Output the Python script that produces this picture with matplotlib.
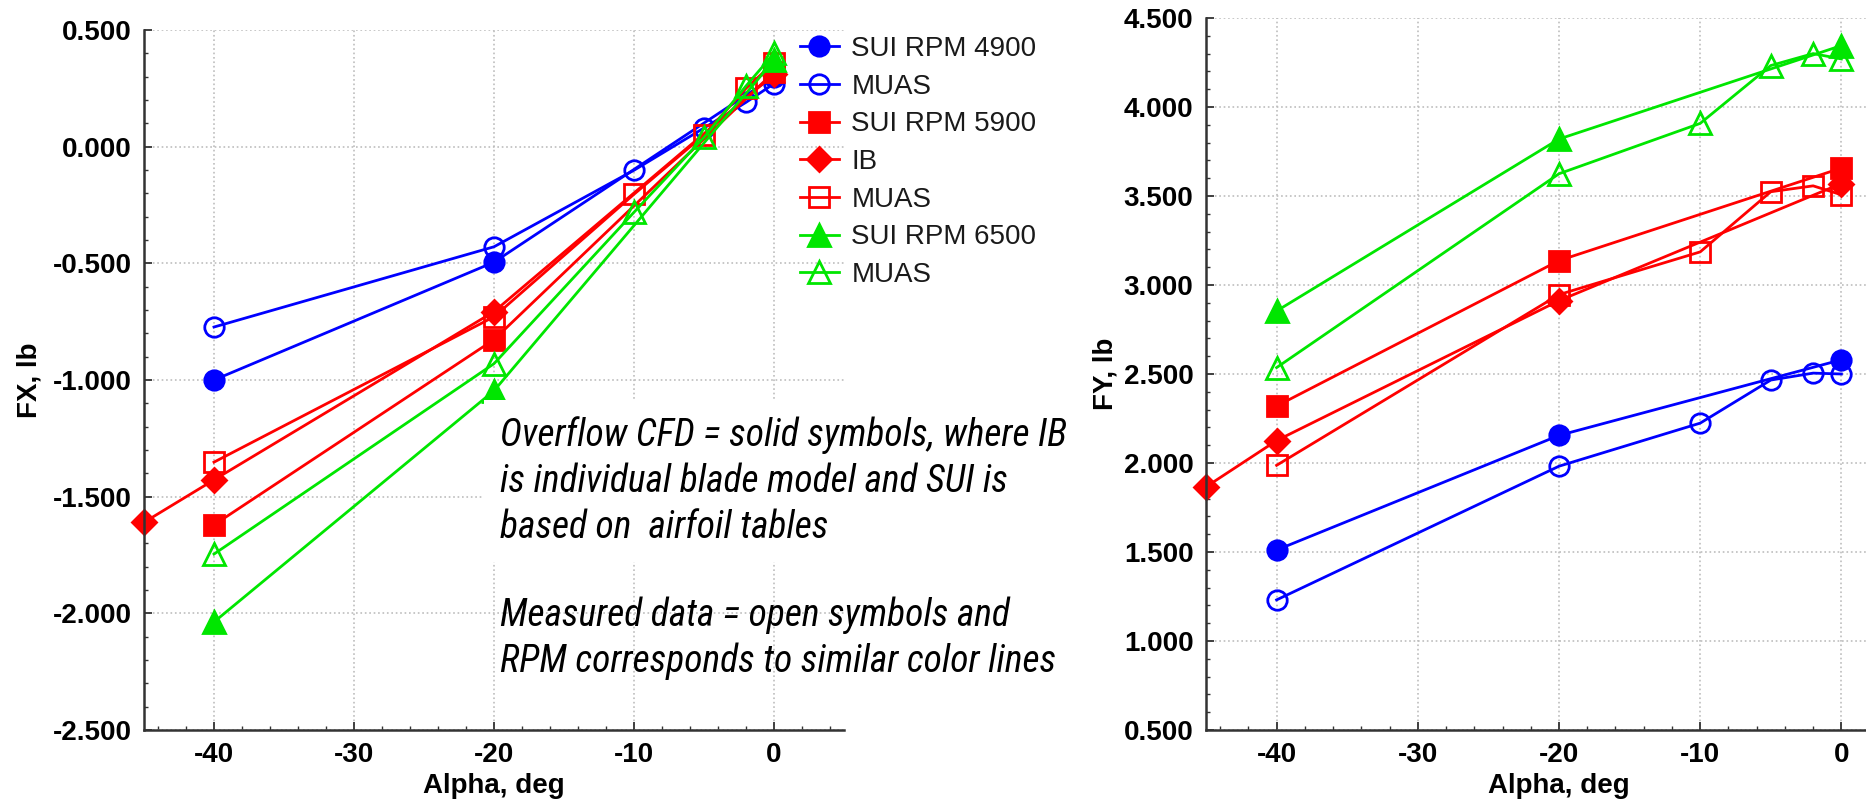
import matplotlib
matplotlib.use('Agg')
import matplotlib.pyplot as plt
from matplotlib import font_manager
from matplotlib.ticker import MultipleLocator, FormatStrFormatter

# Angle of attack for each data set
alpha_sui = [-40, -20, 0]
alpha_ib = [-45, -40, -20, 0]
alpha_muas = [-40, -20, -10, -5, -2, 0]

# FX, lb
fx_sui_4900 = [-1.000, -0.495, 0.300]
fx_muas_4900 = [-0.773, -0.429, -0.101, 0.080, 0.190, 0.270]
fx_sui_5900 = [-1.621, -0.827, 0.320]
fx_ib_5900 = [-1.610, -1.428, -0.707, 0.310]
fx_muas_5900 = [-1.352, -0.729, -0.204, 0.050, 0.250, 0.360]
fx_sui_6500 = [-2.037, -1.046, 0.370]
fx_muas_6500 = [-1.746, -0.930, -0.281, 0.040, 0.260, 0.400]

# FY, lb
fy_sui_4900 = [1.511, 2.155, 2.580]
fy_muas_4900 = [1.231, 1.982, 2.224, 2.466, 2.505, 2.500]
fy_sui_5900 = [2.320, 3.137, 3.657]
fy_ib_5900 = [1.866, 2.126, 2.912, 3.570]
fy_muas_5900 = [1.987, 2.946, 3.186, 3.524, 3.557, 3.507]
fy_sui_6500 = [2.854, 3.820, 4.345]
fy_muas_6500 = [2.536, 3.625, 3.908, 4.233, 4.300, 4.270]

labels = ['SUI RPM 4900', 'MUAS', 'SUI RPM 5900', 'IB', 'MUAS', 'SUI RPM 6500', 'MUAS']

note_1 = ('Overflow CFD = solid symbols, where IB\n'
          'is individual blade model and SUI is\n'
          'based on  airfoil tables')
note_2 = ('Measured data = open symbols and\n'
          'RPM corresponds to similar color lines')

BLUE = '#0000ff'
RED = '#ff0000'
GREEN = '#00e600'

plt.rcParams['font.family'] = ['Liberation Sans', 'DejaVu Sans']
plt.rcParams['axes.unicode_minus'] = False

# narrow italic face for the notes
installed = {f.name for f in font_manager.fontManager.ttflist}
note_font = next((n for n in ['Liberation Sans Narrow', 'Roboto Condensed',
                              'Open Sans Condensed', 'Lato'] if n in installed),
                 'DejaVu Sans')

W, H = 1866, 801
fig = plt.figure(figsize=(W / 100, H / 100), dpi=100)
ax1 = fig.add_axes([144 / W, 1 - 730 / H, 700 / W, 700 / H])
ax2 = fig.add_axes([1206 / W, 1 - 730 / H, 706 / W, 712 / H])


def draw_series(ax, data):
    style = dict(lw=2.0, mew=2.0, clip_on=False)
    lines = []
    for x, y, color, marker, ms, filled in data:
        fc = color if filled else 'none'
        ln, = ax.plot(x, y, color=color, marker=marker, ms=ms, mfc=fc,
                      mec=color, **style)
        lines.append(ln)
    return lines


def style_axes(ax, ylim, ylabel, labelpad):
    ax.set_xlim(-45, 5)
    ax.set_ylim(*ylim)
    ax.xaxis.set_major_locator(MultipleLocator(10))
    ax.xaxis.set_minor_locator(MultipleLocator(2))
    ax.yaxis.set_major_locator(MultipleLocator(0.5))
    ax.yaxis.set_minor_locator(MultipleLocator(0.1))
    ax.yaxis.set_major_formatter(FormatStrFormatter('%.3f'))
    for side in ['top', 'right']:
        ax.spines[side].set_visible(False)
    for side in ['left', 'bottom']:
        ax.spines[side].set_linewidth(1.8)
        ax.spines[side].set_color('#333333')
    ax.tick_params(which='major', direction='in', length=6, width=1.3,
                   labelsize=20, pad=9, color='#333333')
    ax.tick_params(which='minor', direction='in', length=3, width=1.0,
                   color='#333333')
    for lab in ax.get_xticklabels() + ax.get_yticklabels():
        lab.set_fontweight('bold')
    ax.grid(True, which='major', linestyle=':', color='#bdbdbd', lw=1.2)
    ax.set_axisbelow(True)
    ax.set_xlabel('Alpha, deg', fontsize=20, fontweight='bold', labelpad=3)
    ax.set_ylabel(ylabel, fontsize=20, fontweight='bold', labelpad=labelpad)


fx_sets = [
    (alpha_sui, fx_sui_4900, BLUE, 'o', 14, True),
    (alpha_muas, fx_muas_4900, BLUE, 'o', 14, False),
    (alpha_sui, fx_sui_5900, RED, 's', 14, True),
    (alpha_ib, fx_ib_5900, RED, 'D', 12, True),
    (alpha_muas, fx_muas_5900, RED, 's', 14, False),
    (alpha_sui, fx_sui_6500, GREEN, '^', 16, True),
    (alpha_muas, fx_muas_6500, GREEN, '^', 16, False),
]
fy_sets = [
    (alpha_sui, fy_sui_4900, BLUE, 'o', 14, True),
    (alpha_muas, fy_muas_4900, BLUE, 'o', 14, False),
    (alpha_sui, fy_sui_5900, RED, 's', 14, True),
    (alpha_ib, fy_ib_5900, RED, 'D', 12, True),
    (alpha_muas, fy_muas_5900, RED, 's', 14, False),
    (alpha_sui, fy_sui_6500, GREEN, '^', 16, True),
    (alpha_muas, fy_muas_6500, GREEN, '^', 16, False),
]

fx_lines = draw_series(ax1, fx_sets)
draw_series(ax2, fy_sets)

style_axes(ax1, (-2.5, 0.5), 'FX, lb', 7)
style_axes(ax2, (0.5, 4.5), 'FY, lb', 4)

leg = ax1.legend(fx_lines, labels, loc='upper left',
                 bbox_to_anchor=(800 / W, 1 - 36 / H),
                 bbox_transform=fig.transFigure, frameon=False, fontsize=20,
                 handlelength=1.4, handletextpad=0.45, labelspacing=0.42,
                 borderpad=0, borderaxespad=0)
for t in leg.get_texts():
    t.set_color('#1a1a1a')

# explanatory notes, on a white box over the plot lines
fig.text(500 / W, 1 - 416 / H, note_1, ha='left', va='top', fontsize=27,
         style='italic', family=note_font, linespacing=1.31, color='black',
         bbox=dict(facecolor='white', edgecolor='none', pad=12), zorder=10)
fig.text(500 / W, 1 - 596 / H, note_2, ha='left', va='top', fontsize=27,
         style='italic', family=note_font, linespacing=1.31, color='black',
         zorder=10)

fig.savefig('out.png', dpi=100)
